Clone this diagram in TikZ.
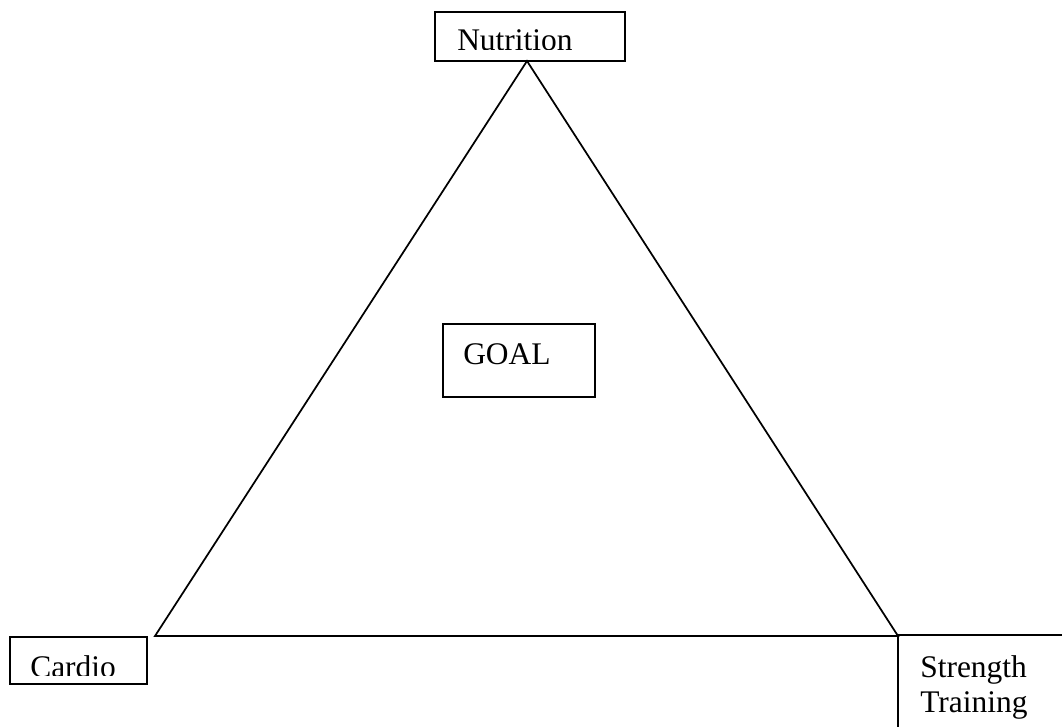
\documentclass[tikz,border=0pt]{standalone}
\usepackage{fontspec}
\setmainfont{Liberation Serif}
\begin{document}
\begin{tikzpicture}[x=0.75pt,y=-0.75pt,
  box/.style={draw=black,line width=1.3pt,rectangle,inner sep=0pt},
  lbl/.style={inner sep=0pt,anchor=base west,font=\fontsize{23.6pt}{26pt}\selectfont},
  edge/.style={draw=black,line width=1.3pt}]
\useasboundingbox (0,0) rectangle (1062,727);
\clip (0,0) rectangle (1062,727);
\fill[white] (0,0) rectangle (1062,727);
% boxes
\node[box,minimum width=142.5pt,minimum height=36.75pt] (nutrition) at (530,36.5) {};
\node[box,minimum width=114pt,minimum height=54.75pt] (goal) at (519,360.5) {};
\node[box,minimum width=102.75pt,minimum height=35.25pt] (cardio) at (78.5,660.5) {};
\node[box,minimum width=129pt,minimum height=75pt] (strength) at (984,685) {};
% triangle corners
\coordinate (apex) at (527,61);
\coordinate (bl) at (155,636);
\coordinate (br) at (898,636);
\draw[edge,line join=miter] (apex) -- (bl) -- (br) -- cycle;
% labels
\begin{scope}
\clip (0,0) rectangle (1062,49.5);
\node[lbl] (tnut) at (457,51) {Nutrition};
\end{scope}
\node[lbl] (tgoal) at (463,364) {GOAL};
\begin{scope}
\clip (0,600) rectangle (300,675);
\node[lbl] (tcardio) at (30,677) {Cardio};
\end{scope}
\node[lbl] (tstr) at (920,677) {Strength};
\node[lbl] (ttrain) at (920,712) {Training};
\end{tikzpicture}
\end{document}
